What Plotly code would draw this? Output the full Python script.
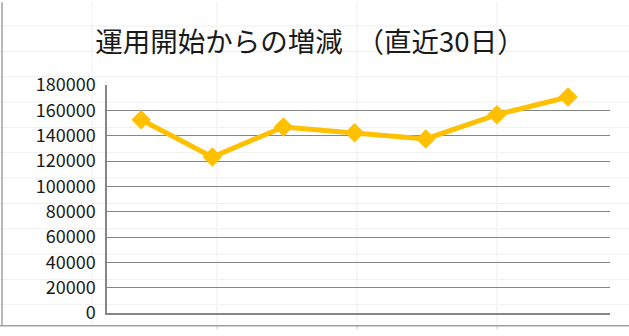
import plotly.graph_objects as go

categories = ["1", "2", "3", "4", "5", "6", "7"]
values = [152500, 123100, 146900, 142300, 137400, 156600, 170500]
y_ticks = [0, 20000, 40000, 60000, 80000, 100000, 120000, 140000, 160000, 180000]
title_text = "運用開始からの増減　（直近30日）"

W, H = 629, 336
ML, MR, MT, MB = 107, 19, 85, 17
PW, PH = W - ML - MR, H - MT - MB

def px_x(px):
    return (px - ML) / PW

def px_y(py):
    return (H - MB - py) / PH

fig = go.Figure()
fig.add_trace(go.Scatter(
    x=categories, y=values, mode="lines+markers",
    line=dict(color="#FFC000", width=5),
    marker=dict(symbol="diamond", size=15, color="#FFC000"),
    cliponaxis=False, showlegend=False,
))

shapes = []
faint = "#efefef"
for vx in [92, 217, 357, 497]:
    shapes.append(dict(type="line", xref="paper", yref="paper",
                       x0=px_x(vx), x1=px_x(vx), y0=px_y(0), y1=px_y(332),
                       line=dict(color=faint, width=1), layer="below"))
for k in range(12):
    hy = 24.5 + 26 * k
    shapes.append(dict(type="line", xref="paper", yref="paper",
                       x0=px_x(0), x1=px_x(W), y0=px_y(hy), y1=px_y(hy),
                       line=dict(color=faint, width=1), layer="below"))
for vx in [217, 357, 497]:
    shapes.append(dict(type="line", xref="paper", yref="paper",
                       x0=px_x(vx), x1=px_x(vx), y0=px_y(332), y1=px_y(336),
                       line=dict(color="#d0d0d0", width=1)))
shapes.append(dict(type="line", xref="paper", yref="paper",
                   x0=px_x(2), x1=px_x(2), y0=px_y(0), y1=px_y(332),
                   line=dict(color="#a0a0a0", width=1.5)))
shapes.append(dict(type="line", xref="paper", yref="paper",
                   x0=px_x(0), x1=px_x(W), y0=px_y(332), y1=px_y(332),
                   line=dict(color="#a0a0a0", width=1.5)))

fig.update_layout(
    width=W, height=H,
    margin=dict(l=ML, r=MR, t=MT, b=MB),
    paper_bgcolor="white", plot_bgcolor="rgba(0,0,0,0)",
    font=dict(family="Noto Sans CJK JP", color="#1a1a1a"),
    title=dict(text=title_text, x=310 / W, xref="container", xanchor="center",
               y=1 - 42 / H, yref="container", yanchor="middle",
               font=dict(size=27.5, color="#1a1a1a", family="Noto Sans CJK JP")),
    shapes=shapes,
)
fig.update_xaxes(type="category", range=[-0.48, 6.59], showticklabels=False,
                 showgrid=False, showline=True, linecolor="#868686", linewidth=1.5,
                 zeroline=False, ticks="")
fig.update_yaxes(range=[0, 180000], tickvals=y_ticks, ticktext=[str(v) for v in y_ticks],
                 showgrid=True, gridcolor="#868686", gridwidth=1.2,
                 showline=True, linecolor="#868686", linewidth=1.5,
                 zeroline=False, ticks="", ticklabelstandoff=6,
                 tickfont=dict(size=18, color="#1a1a1a", family="Noto Sans CJK JP"))

fig.write_html("out.html")
